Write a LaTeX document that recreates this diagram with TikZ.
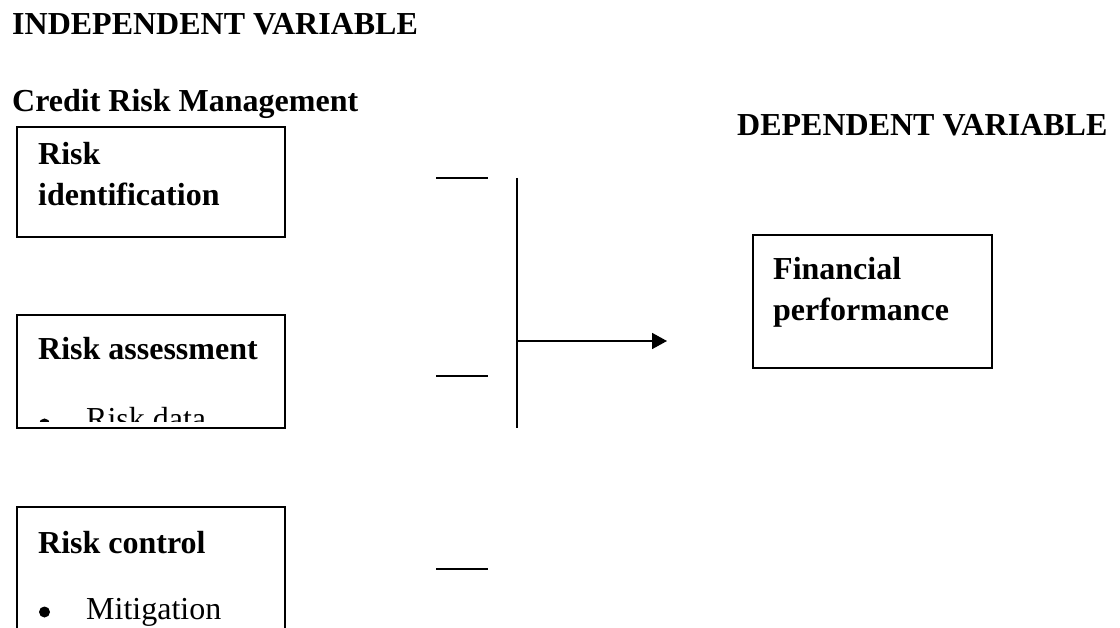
\documentclass[tikz,border=0pt]{standalone}
\usepackage{fontspec}
\setmainfont{Liberation Serif}
\usetikzlibrary{arrows.meta}
\tikzset{
  lbl/.style={anchor=base west, inner sep=0pt, font=\fontsize{32}{38}\selectfont\bfseries},
  txt/.style={anchor=base west, inner sep=0pt, font=\fontsize{32}{38}\selectfont},
  bul/.style={circle, fill=black, inner sep=0pt, minimum size=11pt},
  boxline/.style={draw=black, line width=1.8pt},
  conn/.style={line width=1.8pt},
}
\begin{document}
\begin{tikzpicture}[x=1pt,y=-1pt]
\useasboundingbox (0,0) rectangle (1120,628);
\clip (0,0) rectangle (1120,628);
% titles
\node[lbl] (indep) at (12,35) {INDEPENDENT VARIABLE};
\node[lbl] (crm) at (12,112) {Credit Risk Management};
\node[lbl] (dep) at (737,136) {DEPENDENT VARIABLE};
% box 1
\draw[boxline] (17,127) rectangle (285,237);
\node[lbl] (b1a) at (38,165) {Risk};
\node[lbl] (b1b) at (38,206) {identification};
% box 2
\draw[boxline] (17,315) rectangle (285,428);
\node[lbl] (b2a) at (38,360) {Risk assessment};
\begin{scope}
\clip (17,315) rectangle (285,422);
\node[bul] (b2bul) at (44.5,424) {};
\node[txt] (b2b) at (86,430) {Risk data};
\end{scope}
% box 3
\draw[boxline] (17,507) rectangle (285,660);
\node[lbl] (b3a) at (38,553) {Risk control};
\node[bul] (b3bul) at (44.5,612) {};
\node[txt] (b3b) at (86,619) {Mitigation};
% financial box
\draw[boxline] (753,235) rectangle (992,368);
\node[lbl] (fa) at (773,280) {Financial};
\node[lbl] (fb) at (773,321) {performance};
% ticks
\coordinate (t1a) at (436,178); \coordinate (t1b) at (488,178);
\coordinate (t2a) at (436,376); \coordinate (t2b) at (488,376);
\coordinate (t3a) at (436,569); \coordinate (t3b) at (488,569);
\draw[conn] (t1a) -- (t1b);
\draw[conn] (t2a) -- (t2b);
\draw[conn] (t3a) -- (t3b);
% vertical bar and arrow
\coordinate (vtop) at (517,178);
\coordinate (vbot) at (517,428);
\coordinate (vmid) at (517,341);
\coordinate (aend) at (667,341);
\draw[conn] (vtop) -- (vbot);
\draw[conn,-{Triangle[length=15pt,width=16pt]}] (vmid) -- (aend);
\end{tikzpicture}
\end{document}
